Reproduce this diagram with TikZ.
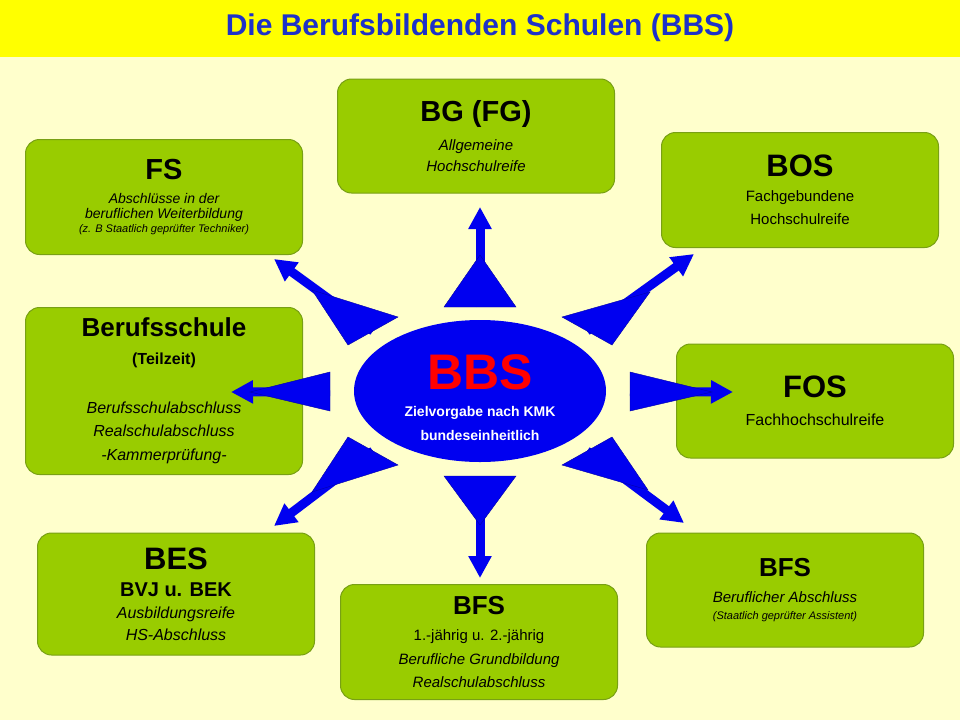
\documentclass[tikz,border=0pt]{standalone}
\usepackage{fontspec}
\setmainfont{Liberation Sans}
\usetikzlibrary{arrows.meta,shapes.geometric,calc}
\definecolor{bgyellow}{RGB}{255,255,204}
\definecolor{titleyellow}{RGB}{255,255,0}
\definecolor{titleblue}{RGB}{30,50,200}
\definecolor{boxgreen}{RGB}{153,204,0}
\definecolor{boxedge}{RGB}{120,160,20}
\definecolor{bbsblue}{RGB}{0,0,240}
\newcommand{\fs}[1]{\fontsize{#1}{#1}\selectfont}

\begin{document}
\begin{tikzpicture}[x=1pt,y=-1pt]
	\tikzstyle{school} = [rectangle, rounded corners=14pt, draw=boxedge, fill=boxgreen,
	line width=1pt, minimum width=277pt, align=center, inner sep=0pt]
	\tikzstyle{wedge} = [fill=bbsblue, draw=bbsblue!70!black, line width=0.4pt]
	\tikzstyle{arrow} = [draw=bbsblue, line width=9pt, -{Triangle[width=22pt,length=22pt]}]
	\fill[bgyellow] (0,0) rectangle (960,720);
	\fill[titleyellow] (0,0) rectangle (960,57);
	\node (title) at (480,28) {\fs{30}\bfseries\color{titleblue}Die Berufsbildenden Schulen (BBS)};
	% schools
	\node (bg) [school, minimum height=114pt] at (476,136) {\fs{29}\bfseries BG (FG)\\[12pt]
		\fs{15}\itshape Allgemeine\\[6pt]\fs{15}\itshape Hochschulreife};
	\node (fs) [school, minimum height=115pt] at (164,197) {\fs{29}\bfseries FS\\[12pt]
		\fs{14}\itshape Abschlüsse in der\\[3pt]\fs{14}\itshape beruflichen Weiterbildung\\[2pt]
		\fs{11}\itshape (z. B Staatlich geprüfter Techniker)};
	\node (bos) [school, minimum height=115pt] at (800,190) {\fs{31}\bfseries BOS\\[13pt]
		\fs{15}Fachgebundene\\[8pt]\fs{15}Hochschulreife};
	\node (bs) [school, minimum height=167pt] at (164,391) {\fs{26}\bfseries Berufsschule\\[16pt]
		\fs{16}\bfseries (Teilzeit)\\[33pt]
		\fs{16}\itshape Berufsschulabschluss\\[11pt]\fs{16}\itshape Realschulabschluss\\[12pt]
		\fs{16}\itshape -Kammerprüfung-};
	\node (fos) [school, minimum height=114pt] at (815,401) {\fs{31}\bfseries FOS\\[16pt]
		\fs{16}Fachhochschulreife};
	\node (bes) [school, minimum height=122pt] at (176,594) {\fs{31}\bfseries BES\\[12pt]
		\fs{20}\bfseries BVJ u. BEK\\[10pt]\fs{16}\itshape Ausbildungsreife\\[6pt]
		\fs{16}\itshape HS-Abschluss};
	\node (bfsu) [school, minimum height=115pt] at (479,642) {\fs{26}\bfseries BFS\\[14pt]
		\fs{15}1.-jährig u. 2.-jährig\\[9pt]\fs{15}\itshape Berufliche Grundbildung\\[8pt]
		\fs{15}\itshape Realschulabschluss};
	\node (bfsr) [school, minimum height=114pt] at (785,590) {\fs{26}\bfseries BFS\\[14pt]
		\fs{15}\itshape Beruflicher Abschluss\\[5pt]\fs{11}\itshape (Staatlich geprüfter Assistent)};
	% centre
	\node (bbs) [ellipse, fill=bbsblue, minimum width=252pt, minimum height=142pt] at (480,391) {};
	\node (bbslabel) at (480,372) {\fs{50}\bfseries\color{red}BBS};
	\node (ziel) at (480,413) {\fs{14}\bfseries\color{white}Zielvorgabe nach KMK};
	\node (bund) at (480,435) {\fs{14}\bfseries\color{white}bundeseinheitlich};
	% wedges and arrows
	\foreach \ax/\ay/\bx/\by/\px/\py/\tx/\ty/\name in {
		444/307/516/307/480/255/480/207/up,
		444/476/516/476/480/525/480/578/down,
		330/372/330/411/250/392/231/392/left,
		630/372/630/411/712/392/733/392/right,
		398/317/348/345/312/290/274/259/upleft,
		562/317/612/345/650/292/694/254/upright,
		398/465/348/437/312/492/274/526/downleft,
		562/465/612/437/648/490/684/523/downright}{
		\coordinate (\name a) at (\ax,\ay);
		\coordinate (\name b) at (\bx,\by);
		\coordinate (\name tip) at (\tx,\ty);
		\draw [arrow] ($(\name a)!0.5!(\name b)$) -- (\name tip);
		\filldraw [wedge] (\name a) -- (\name b) -- (\px,\py) -- cycle;
	}
\end{tikzpicture}
\end{document}
